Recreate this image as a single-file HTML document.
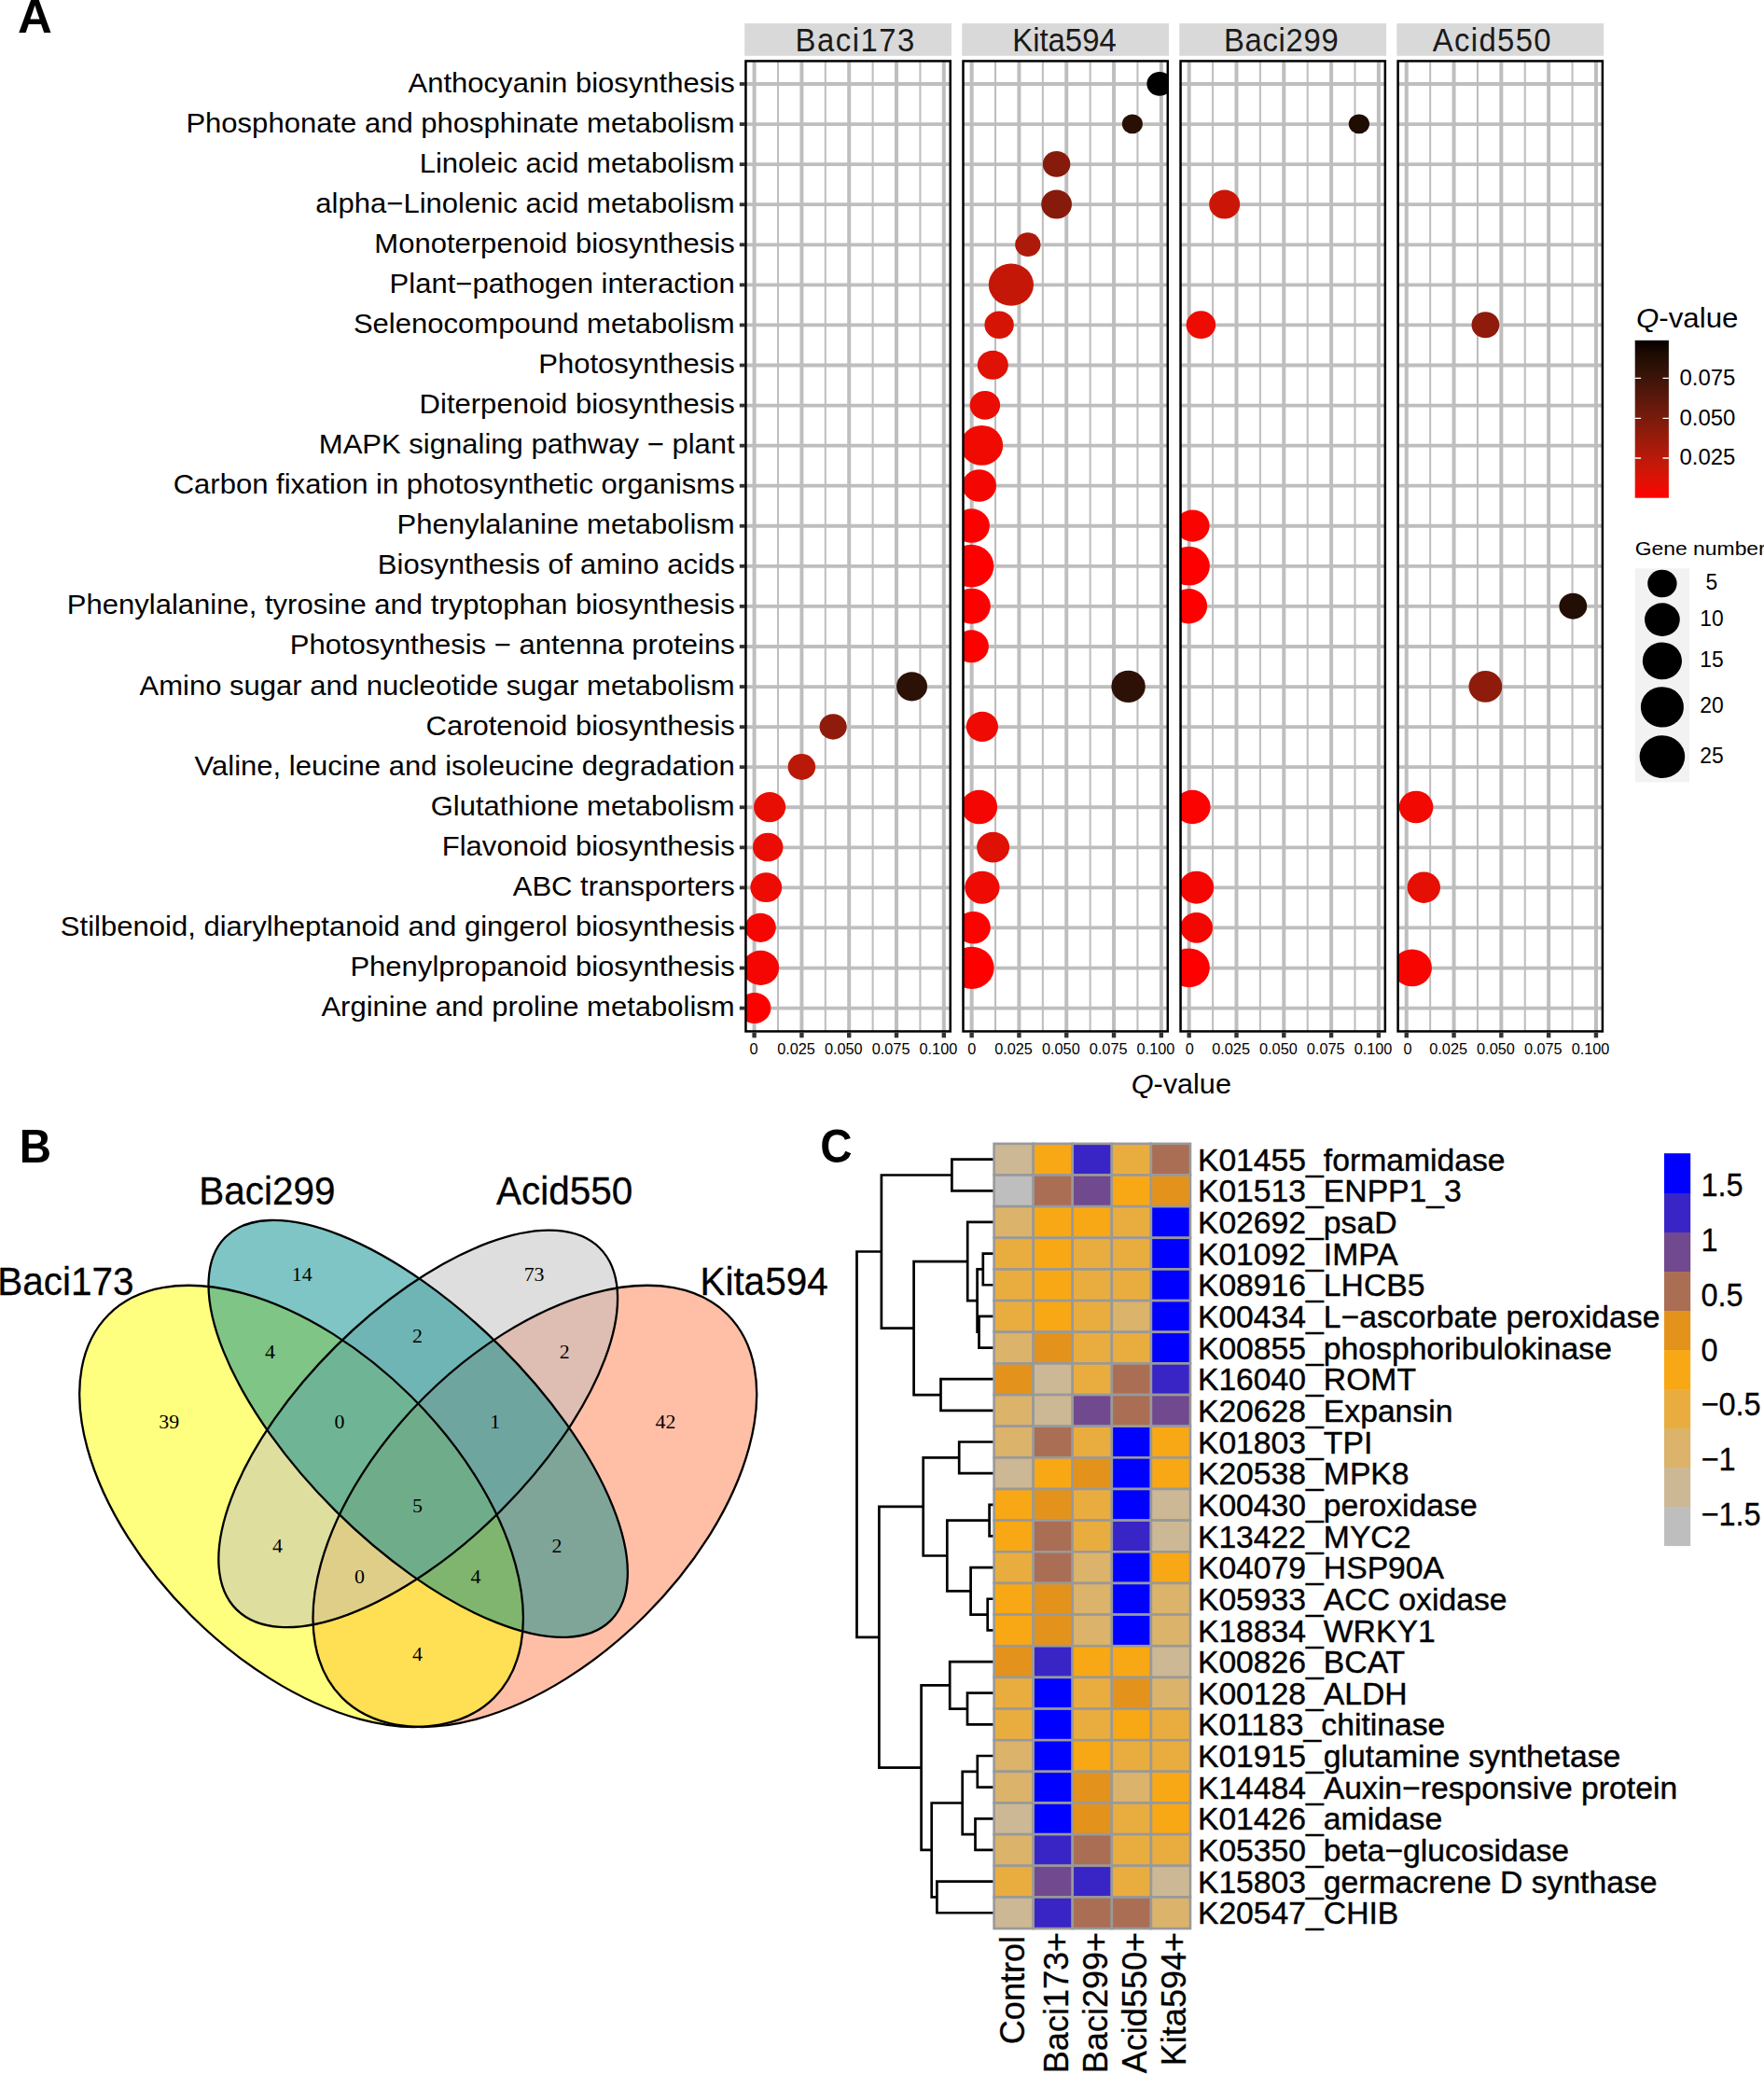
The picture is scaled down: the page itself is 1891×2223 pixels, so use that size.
<!DOCTYPE html>
<html lang="en">
<head>
<meta charset="utf-8">
<title>Figure</title>
<style>
html,body{margin:0;padding:0;background:#fff;}
body{width:1891px;height:2223px;overflow:hidden;}
svg{display:block;font-family:"Liberation Sans", sans-serif;}
</style>
</head>
<body>
<svg width="1891" height="2223" viewBox="0 0 1891 2223">
<rect width="1891" height="2223" fill="#fff"/>
<g id="panelA">
<text transform="translate(19.1 34.7) scale(1.014 1)" font-size="50.3" text-anchor="start" fill="#000" font-weight="bold">A</text>
<text transform="translate(787.7 98.5) scale(1.038 1)" font-size="29.9" text-anchor="end" fill="#000">Anthocyanin biosynthesis</text>
<rect x="792.8" y="88.1" width="5.6" height="3.8" fill="#333"/>
<text transform="translate(787.7 141.57) scale(1.038 1)" font-size="29.9" text-anchor="end" fill="#000">Phosphonate and phosphinate metabolism</text>
<rect x="792.8" y="131.17" width="5.6" height="3.8" fill="#333"/>
<text transform="translate(787.7 184.64) scale(1.038 1)" font-size="29.9" text-anchor="end" fill="#000">Linoleic acid metabolism</text>
<rect x="792.8" y="174.24" width="5.6" height="3.8" fill="#333"/>
<text transform="translate(787.7 227.71) scale(1.038 1)" font-size="29.9" text-anchor="end" fill="#000">alpha−Linolenic acid metabolism</text>
<rect x="792.8" y="217.31" width="5.6" height="3.8" fill="#333"/>
<text transform="translate(787.7 270.78) scale(1.038 1)" font-size="29.9" text-anchor="end" fill="#000">Monoterpenoid biosynthesis</text>
<rect x="792.8" y="260.38" width="5.6" height="3.8" fill="#333"/>
<text transform="translate(787.7 313.85) scale(1.038 1)" font-size="29.9" text-anchor="end" fill="#000">Plant−pathogen interaction</text>
<rect x="792.8" y="303.45" width="5.6" height="3.8" fill="#333"/>
<text transform="translate(787.7 356.92) scale(1.038 1)" font-size="29.9" text-anchor="end" fill="#000">Selenocompound metabolism</text>
<rect x="792.8" y="346.52" width="5.6" height="3.8" fill="#333"/>
<text transform="translate(787.7 399.99) scale(1.038 1)" font-size="29.9" text-anchor="end" fill="#000">Photosynthesis</text>
<rect x="792.8" y="389.59" width="5.6" height="3.8" fill="#333"/>
<text transform="translate(787.7 443.06) scale(1.038 1)" font-size="29.9" text-anchor="end" fill="#000">Diterpenoid biosynthesis</text>
<rect x="792.8" y="432.66" width="5.6" height="3.8" fill="#333"/>
<text transform="translate(787.7 486.13) scale(1.038 1)" font-size="29.9" text-anchor="end" fill="#000">MAPK signaling pathway − plant</text>
<rect x="792.8" y="475.73" width="5.6" height="3.8" fill="#333"/>
<text transform="translate(787.7 529.2) scale(1.038 1)" font-size="29.9" text-anchor="end" fill="#000">Carbon fixation in photosynthetic organisms</text>
<rect x="792.8" y="518.8" width="5.6" height="3.8" fill="#333"/>
<text transform="translate(787.7 572.27) scale(1.038 1)" font-size="29.9" text-anchor="end" fill="#000">Phenylalanine metabolism</text>
<rect x="792.8" y="561.87" width="5.6" height="3.8" fill="#333"/>
<text transform="translate(787.7 615.34) scale(1.038 1)" font-size="29.9" text-anchor="end" fill="#000">Biosynthesis of amino acids</text>
<rect x="792.8" y="604.94" width="5.6" height="3.8" fill="#333"/>
<text transform="translate(787.7 658.41) scale(1.038 1)" font-size="29.9" text-anchor="end" fill="#000">Phenylalanine, tyrosine and tryptophan biosynthesis</text>
<rect x="792.8" y="648.01" width="5.6" height="3.8" fill="#333"/>
<text transform="translate(787.7 701.48) scale(1.038 1)" font-size="29.9" text-anchor="end" fill="#000">Photosynthesis − antenna proteins</text>
<rect x="792.8" y="691.08" width="5.6" height="3.8" fill="#333"/>
<text transform="translate(787.7 744.55) scale(1.038 1)" font-size="29.9" text-anchor="end" fill="#000">Amino sugar and nucleotide sugar metabolism</text>
<rect x="792.8" y="734.15" width="5.6" height="3.8" fill="#333"/>
<text transform="translate(787.7 787.62) scale(1.038 1)" font-size="29.9" text-anchor="end" fill="#000">Carotenoid biosynthesis</text>
<rect x="792.8" y="777.22" width="5.6" height="3.8" fill="#333"/>
<text transform="translate(787.7 830.69) scale(1.038 1)" font-size="29.9" text-anchor="end" fill="#000">Valine, leucine and isoleucine degradation</text>
<rect x="792.8" y="820.29" width="5.6" height="3.8" fill="#333"/>
<text transform="translate(787.7 873.76) scale(1.038 1)" font-size="29.9" text-anchor="end" fill="#000">Glutathione metabolism</text>
<rect x="792.8" y="863.36" width="5.6" height="3.8" fill="#333"/>
<text transform="translate(787.7 916.83) scale(1.038 1)" font-size="29.9" text-anchor="end" fill="#000">Flavonoid biosynthesis</text>
<rect x="792.8" y="906.43" width="5.6" height="3.8" fill="#333"/>
<text transform="translate(787.7 959.9) scale(1.038 1)" font-size="29.9" text-anchor="end" fill="#000">ABC transporters</text>
<rect x="792.8" y="949.5" width="5.6" height="3.8" fill="#333"/>
<text transform="translate(787.7 1002.97) scale(1.038 1)" font-size="29.9" text-anchor="end" fill="#000">Stilbenoid, diarylheptanoid and gingerol biosynthesis</text>
<rect x="792.8" y="992.57" width="5.6" height="3.8" fill="#333"/>
<text transform="translate(787.7 1046.04) scale(1.038 1)" font-size="29.9" text-anchor="end" fill="#000">Phenylpropanoid biosynthesis</text>
<rect x="792.8" y="1035.64" width="5.6" height="3.8" fill="#333"/>
<text transform="translate(787.7 1089.11) scale(1.038 1)" font-size="29.9" text-anchor="end" fill="#000">Arginine and proline metabolism</text>
<rect x="792.8" y="1078.71" width="5.6" height="3.8" fill="#333"/>
<defs>
<clipPath id="cp0"><rect x="799.45" y="65.45" width="219.3" height="1040"/></clipPath>
<clipPath id="cp1"><rect x="1032.5" y="65.45" width="219.3" height="1040"/></clipPath>
<clipPath id="cp2"><rect x="1265.55" y="65.45" width="219.3" height="1040"/></clipPath>
<clipPath id="cp3"><rect x="1498.6" y="65.45" width="219.3" height="1040"/></clipPath>
</defs>
<rect x="798.2" y="25.1" width="221.8" height="34.7" fill="#d9d9d9"/>
<text transform="translate(852.6 54.9) scale(0.959 1)" font-size="34.3" text-anchor="start" fill="#1a1a1a" letter-spacing="1.55">Baci173</text>
<g clip-path="url(#cp0)">
<path d="M834 64.2V1106.7M884.8 64.2V1106.7M935.6 64.2V1106.7M986.4 64.2V1106.7" stroke="#bebebe" stroke-width="2.05" fill="none"/>
<path d="M808.6 64.2V1106.7M859.4 64.2V1106.7M910.2 64.2V1106.7M961 64.2V1106.7M1011.8 64.2V1106.7" stroke="#bebebe" stroke-width="4.0" fill="none"/>
<path d="M798.2 90H1020M798.2 133.07H1020M798.2 176.14H1020M798.2 219.21H1020M798.2 262.28H1020M798.2 305.35H1020M798.2 348.42H1020M798.2 391.49H1020M798.2 434.56H1020M798.2 477.63H1020M798.2 520.7H1020M798.2 563.77H1020M798.2 606.84H1020M798.2 649.91H1020M798.2 692.98H1020M798.2 736.05H1020M798.2 779.12H1020M798.2 822.19H1020M798.2 865.26H1020M798.2 908.33H1020M798.2 951.4H1020M798.2 994.47H1020M798.2 1037.54H1020M798.2 1080.61H1020" stroke="#bebebe" stroke-width="3.8" fill="none"/>
<ellipse cx="977.5" cy="735.85" rx="16.5" ry="15.53" fill="#2c1106"/>
<ellipse cx="893.1" cy="778.92" rx="14.57" ry="13.72" fill="#8e1b0c"/>
<ellipse cx="859.4" cy="821.99" rx="14.78" ry="13.91" fill="#ba1909"/>
<ellipse cx="825.1" cy="865.06" rx="17.1" ry="16.1" fill="#e80e04"/>
<ellipse cx="823.2" cy="908.13" rx="16.24" ry="15.29" fill="#eb0c03"/>
<ellipse cx="821.3" cy="951.2" rx="16.9" ry="15.91" fill="#ed0b03"/>
<ellipse cx="815.2" cy="994.27" rx="16.6" ry="15.63" fill="#f60602"/>
<ellipse cx="815.4" cy="1037.34" rx="19.73" ry="18.58" fill="#f50602"/>
<ellipse cx="808.9" cy="1080.41" rx="17.51" ry="16.49" fill="#ff0000"/>
</g>
<rect x="799.45" y="65.45" width="219.3" height="1040" fill="none" stroke="#000" stroke-width="2.5"/>
<rect x="806.4" y="1106.7" width="4.4" height="5.6" fill="#333"/>
<text x="808.1" y="1130.3" font-size="16.3" text-anchor="middle" fill="#000">0</text>
<rect x="857.2" y="1106.7" width="4.4" height="5.6" fill="#333"/>
<text x="853.5" y="1130.3" font-size="16.3" text-anchor="middle" fill="#000">0.025</text>
<rect x="908" y="1106.7" width="4.4" height="5.6" fill="#333"/>
<text x="904.3" y="1130.3" font-size="16.3" text-anchor="middle" fill="#000">0.050</text>
<rect x="958.8" y="1106.7" width="4.4" height="5.6" fill="#333"/>
<text x="955.1" y="1130.3" font-size="16.3" text-anchor="middle" fill="#000">0.075</text>
<rect x="1009.6" y="1106.7" width="4.4" height="5.6" fill="#333"/>
<text x="1005.9" y="1130.3" font-size="16.3" text-anchor="middle" fill="#000">0.100</text>
<rect x="1031.25" y="25.1" width="221.8" height="34.7" fill="#d9d9d9"/>
<text transform="translate(1085.2 54.9) scale(0.959 1)" font-size="34.3" text-anchor="start" fill="#1a1a1a" letter-spacing="0">Kita594</text>
<g clip-path="url(#cp1)">
<path d="M1067.05 64.2V1106.7M1117.85 64.2V1106.7M1168.65 64.2V1106.7M1219.45 64.2V1106.7" stroke="#bebebe" stroke-width="2.05" fill="none"/>
<path d="M1041.65 64.2V1106.7M1092.45 64.2V1106.7M1143.25 64.2V1106.7M1194.05 64.2V1106.7M1244.85 64.2V1106.7" stroke="#bebebe" stroke-width="4.0" fill="none"/>
<path d="M1031.25 90H1253.05M1031.25 133.07H1253.05M1031.25 176.14H1253.05M1031.25 219.21H1253.05M1031.25 262.28H1253.05M1031.25 305.35H1253.05M1031.25 348.42H1253.05M1031.25 391.49H1253.05M1031.25 434.56H1253.05M1031.25 477.63H1253.05M1031.25 520.7H1253.05M1031.25 563.77H1253.05M1031.25 606.84H1253.05M1031.25 649.91H1253.05M1031.25 692.98H1253.05M1031.25 736.05H1253.05M1031.25 779.12H1253.05M1031.25 822.19H1253.05M1031.25 865.26H1253.05M1031.25 908.33H1253.05M1031.25 951.4H1253.05M1031.25 994.47H1253.05M1031.25 1037.54H1253.05M1031.25 1080.61H1253.05" stroke="#bebebe" stroke-width="3.8" fill="none"/>
<ellipse cx="1243" cy="89.8" rx="13.66" ry="12.86" fill="#000000"/>
<ellipse cx="1213.9" cy="132.87" rx="11.03" ry="10.39" fill="#281005"/>
<ellipse cx="1132.6" cy="175.94" rx="14.78" ry="13.91" fill="#861b0c"/>
<ellipse cx="1132.6" cy="219.01" rx="16.39" ry="15.44" fill="#861b0c"/>
<ellipse cx="1101.8" cy="262.08" rx="13.66" ry="12.86" fill="#ad1a0a"/>
<ellipse cx="1083.9" cy="305.15" rx="24.09" ry="22.68" fill="#c51708"/>
<ellipse cx="1071.1" cy="348.22" rx="15.69" ry="14.77" fill="#d61406"/>
<ellipse cx="1064.3" cy="391.29" rx="16.5" ry="15.53" fill="#e01105"/>
<ellipse cx="1055.9" cy="434.36" rx="16.24" ry="15.29" fill="#eb0c03"/>
<ellipse cx="1052.4" cy="477.43" rx="22.77" ry="21.44" fill="#f00a02"/>
<ellipse cx="1049.7" cy="520.5" rx="18.32" ry="17.25" fill="#f40702"/>
<ellipse cx="1041.5" cy="563.57" rx="19.43" ry="18.3" fill="#ff0000"/>
<ellipse cx="1041.1" cy="606.64" rx="24.29" ry="22.87" fill="#ff0000"/>
<ellipse cx="1041.6" cy="649.71" rx="20.24" ry="19.06" fill="#ff0000"/>
<ellipse cx="1041.4" cy="692.78" rx="18.52" ry="17.44" fill="#ff0000"/>
<ellipse cx="1209.6" cy="735.85" rx="18.22" ry="17.15" fill="#2d1106"/>
<ellipse cx="1052.9" cy="778.92" rx="17.1" ry="16.1" fill="#ef0a03"/>
<ellipse cx="1049.7" cy="865.06" rx="19.43" ry="18.3" fill="#f40702"/>
<ellipse cx="1064.6" cy="908.13" rx="17.51" ry="16.49" fill="#df1105"/>
<ellipse cx="1052.9" cy="951.2" rx="18.62" ry="17.53" fill="#ef0a03"/>
<ellipse cx="1043.5" cy="994.27" rx="18.32" ry="17.25" fill="#fc0200"/>
<ellipse cx="1041.7" cy="1037.34" rx="23.98" ry="22.58" fill="#ff0000"/>
</g>
<rect x="1032.5" y="65.45" width="219.3" height="1040" fill="none" stroke="#000" stroke-width="2.5"/>
<rect x="1039.45" y="1106.7" width="4.4" height="5.6" fill="#333"/>
<text x="1041.72" y="1130.3" font-size="16.3" text-anchor="middle" fill="#000">0</text>
<rect x="1090.25" y="1106.7" width="4.4" height="5.6" fill="#333"/>
<text x="1086.55" y="1130.3" font-size="16.3" text-anchor="middle" fill="#000">0.025</text>
<rect x="1141.05" y="1106.7" width="4.4" height="5.6" fill="#333"/>
<text x="1137.35" y="1130.3" font-size="16.3" text-anchor="middle" fill="#000">0.050</text>
<rect x="1191.85" y="1106.7" width="4.4" height="5.6" fill="#333"/>
<text x="1188.15" y="1130.3" font-size="16.3" text-anchor="middle" fill="#000">0.075</text>
<rect x="1242.65" y="1106.7" width="4.4" height="5.6" fill="#333"/>
<text x="1238.95" y="1130.3" font-size="16.3" text-anchor="middle" fill="#000">0.100</text>
<rect x="1264.3" y="25.1" width="221.8" height="34.7" fill="#d9d9d9"/>
<text transform="translate(1312 54.9) scale(0.959 1)" font-size="34.3" text-anchor="start" fill="#1a1a1a" letter-spacing="0.67">Baci299</text>
<g clip-path="url(#cp2)">
<path d="M1300.1 64.2V1106.7M1350.9 64.2V1106.7M1401.7 64.2V1106.7M1452.5 64.2V1106.7" stroke="#bebebe" stroke-width="2.05" fill="none"/>
<path d="M1274.7 64.2V1106.7M1325.5 64.2V1106.7M1376.3 64.2V1106.7M1427.1 64.2V1106.7M1477.9 64.2V1106.7" stroke="#bebebe" stroke-width="4.0" fill="none"/>
<path d="M1264.3 90H1486.1M1264.3 133.07H1486.1M1264.3 176.14H1486.1M1264.3 219.21H1486.1M1264.3 262.28H1486.1M1264.3 305.35H1486.1M1264.3 348.42H1486.1M1264.3 391.49H1486.1M1264.3 434.56H1486.1M1264.3 477.63H1486.1M1264.3 520.7H1486.1M1264.3 563.77H1486.1M1264.3 606.84H1486.1M1264.3 649.91H1486.1M1264.3 692.98H1486.1M1264.3 736.05H1486.1M1264.3 779.12H1486.1M1264.3 822.19H1486.1M1264.3 865.26H1486.1M1264.3 908.33H1486.1M1264.3 951.4H1486.1M1264.3 994.47H1486.1M1264.3 1037.54H1486.1M1264.3 1080.61H1486.1" stroke="#bebebe" stroke-width="3.8" fill="none"/>
<ellipse cx="1456.9" cy="132.87" rx="11.13" ry="10.48" fill="#1f0c03"/>
<ellipse cx="1312.7" cy="219.01" rx="16.5" ry="15.53" fill="#cb1607"/>
<ellipse cx="1287.4" cy="348.22" rx="15.79" ry="14.87" fill="#ed0b03"/>
<ellipse cx="1278.5" cy="563.57" rx="18.11" ry="17.06" fill="#fa0401"/>
<ellipse cx="1274.7" cy="606.64" rx="22.16" ry="20.87" fill="#ff0000"/>
<ellipse cx="1274.3" cy="649.71" rx="19.84" ry="18.68" fill="#ff0000"/>
<ellipse cx="1278.3" cy="865.06" rx="19.33" ry="18.2" fill="#fa0301"/>
<ellipse cx="1282.7" cy="951.2" rx="18.52" ry="17.44" fill="#f40702"/>
<ellipse cx="1282.7" cy="994.27" rx="17.41" ry="16.39" fill="#f40702"/>
<ellipse cx="1274.7" cy="1037.34" rx="22.16" ry="20.87" fill="#ff0000"/>
</g>
<rect x="1265.55" y="65.45" width="219.3" height="1040" fill="none" stroke="#000" stroke-width="2.5"/>
<rect x="1272.5" y="1106.7" width="4.4" height="5.6" fill="#333"/>
<text x="1275.34" y="1130.3" font-size="16.3" text-anchor="middle" fill="#000">0</text>
<rect x="1323.3" y="1106.7" width="4.4" height="5.6" fill="#333"/>
<text x="1319.6" y="1130.3" font-size="16.3" text-anchor="middle" fill="#000">0.025</text>
<rect x="1374.1" y="1106.7" width="4.4" height="5.6" fill="#333"/>
<text x="1370.4" y="1130.3" font-size="16.3" text-anchor="middle" fill="#000">0.050</text>
<rect x="1424.9" y="1106.7" width="4.4" height="5.6" fill="#333"/>
<text x="1421.2" y="1130.3" font-size="16.3" text-anchor="middle" fill="#000">0.075</text>
<rect x="1475.7" y="1106.7" width="4.4" height="5.6" fill="#333"/>
<text x="1472" y="1130.3" font-size="16.3" text-anchor="middle" fill="#000">0.100</text>
<rect x="1497.35" y="25.1" width="221.8" height="34.7" fill="#d9d9d9"/>
<text transform="translate(1535.8 54.9) scale(0.959 1)" font-size="34.3" text-anchor="start" fill="#1a1a1a" letter-spacing="1.39">Acid550</text>
<g clip-path="url(#cp3)">
<path d="M1533.15 64.2V1106.7M1583.95 64.2V1106.7M1634.75 64.2V1106.7M1685.55 64.2V1106.7" stroke="#bebebe" stroke-width="2.05" fill="none"/>
<path d="M1507.75 64.2V1106.7M1558.55 64.2V1106.7M1609.35 64.2V1106.7M1660.15 64.2V1106.7M1710.95 64.2V1106.7" stroke="#bebebe" stroke-width="4.0" fill="none"/>
<path d="M1497.35 90H1719.15M1497.35 133.07H1719.15M1497.35 176.14H1719.15M1497.35 219.21H1719.15M1497.35 262.28H1719.15M1497.35 305.35H1719.15M1497.35 348.42H1719.15M1497.35 391.49H1719.15M1497.35 434.56H1719.15M1497.35 477.63H1719.15M1497.35 520.7H1719.15M1497.35 563.77H1719.15M1497.35 606.84H1719.15M1497.35 649.91H1719.15M1497.35 692.98H1719.15M1497.35 736.05H1719.15M1497.35 779.12H1719.15M1497.35 822.19H1719.15M1497.35 865.26H1719.15M1497.35 908.33H1719.15M1497.35 951.4H1719.15M1497.35 994.47H1719.15M1497.35 1037.54H1719.15M1497.35 1080.61H1719.15" stroke="#bebebe" stroke-width="3.8" fill="none"/>
<ellipse cx="1592.4" cy="348.22" rx="14.88" ry="14.01" fill="#8e1b0c"/>
<ellipse cx="1686.3" cy="649.71" rx="14.88" ry="14.01" fill="#220e04"/>
<ellipse cx="1592.4" cy="735.85" rx="17.91" ry="16.87" fill="#8e1b0c"/>
<ellipse cx="1518.1" cy="865.06" rx="18.32" ry="17.25" fill="#f10902"/>
<ellipse cx="1526.3" cy="951.2" rx="17.71" ry="16.68" fill="#e50f04"/>
<ellipse cx="1513.8" cy="1037.34" rx="21.15" ry="19.92" fill="#f70601"/>
</g>
<rect x="1498.6" y="65.45" width="219.3" height="1040" fill="none" stroke="#000" stroke-width="2.5"/>
<rect x="1505.55" y="1106.7" width="4.4" height="5.6" fill="#333"/>
<text x="1508.96" y="1130.3" font-size="16.3" text-anchor="middle" fill="#000">0</text>
<rect x="1556.35" y="1106.7" width="4.4" height="5.6" fill="#333"/>
<text x="1552.65" y="1130.3" font-size="16.3" text-anchor="middle" fill="#000">0.025</text>
<rect x="1607.15" y="1106.7" width="4.4" height="5.6" fill="#333"/>
<text x="1603.45" y="1130.3" font-size="16.3" text-anchor="middle" fill="#000">0.050</text>
<rect x="1657.95" y="1106.7" width="4.4" height="5.6" fill="#333"/>
<text x="1654.25" y="1130.3" font-size="16.3" text-anchor="middle" fill="#000">0.075</text>
<rect x="1708.75" y="1106.7" width="4.4" height="5.6" fill="#333"/>
<text x="1705.05" y="1130.3" font-size="16.3" text-anchor="middle" fill="#000">0.100</text>
<text transform="translate(1266.3 1171.7) scale(1.05 1)" font-size="29.2" text-anchor="middle"><tspan font-style="italic">Q</tspan>-value</text>
<text transform="translate(1754.0 350.5) scale(1.063 1)" font-size="29.4"><tspan font-style="italic">Q</tspan>-value</text>
<defs><linearGradient id="qg" x1="0" y1="1" x2="0" y2="0">
<stop offset="0" stop-color="#ff0000"/>
<stop offset="0.05" stop-color="#f10902"/>
<stop offset="0.1" stop-color="#e31004"/>
<stop offset="0.15" stop-color="#d51406"/>
<stop offset="0.2" stop-color="#c81708"/>
<stop offset="0.25" stop-color="#bb1909"/>
<stop offset="0.3" stop-color="#ad1a0a"/>
<stop offset="0.35" stop-color="#a01b0b"/>
<stop offset="0.4" stop-color="#931b0b"/>
<stop offset="0.45" stop-color="#871b0c"/>
<stop offset="0.5" stop-color="#7a1b0c"/>
<stop offset="0.55" stop-color="#6e1a0c"/>
<stop offset="0.6" stop-color="#62190c"/>
<stop offset="0.65" stop-color="#56180b"/>
<stop offset="0.7" stop-color="#4b160a"/>
<stop offset="0.75" stop-color="#3f1508"/>
<stop offset="0.8" stop-color="#341307"/>
<stop offset="0.85" stop-color="#2a1005"/>
<stop offset="0.9" stop-color="#200c03"/>
<stop offset="0.95" stop-color="#150602"/>
<stop offset="1" stop-color="#000000"/>
</linearGradient></defs>
<rect x="1752.7" y="364.8" width="36.2" height="168.9" fill="url(#qg)"/>
<path d="M1752.7 405.3h6.4M1788.9 405.3h-6.4" stroke="#fff" stroke-width="1.3"/>
<text transform="translate(1800.5 412.7) scale(1.01 1)" font-size="23.7" text-anchor="start" fill="#000">0.075</text>
<path d="M1752.7 448.3h6.4M1788.9 448.3h-6.4" stroke="#fff" stroke-width="1.3"/>
<text transform="translate(1800.5 455.7) scale(1.01 1)" font-size="23.7" text-anchor="start" fill="#000">0.050</text>
<path d="M1752.7 491.0h6.4M1788.9 491.0h-6.4" stroke="#fff" stroke-width="1.3"/>
<text transform="translate(1800.5 498.4) scale(1.01 1)" font-size="23.7" text-anchor="start" fill="#000">0.025</text>
<text transform="translate(1752.8 594.9) scale(1.085 1)" font-size="21.1" text-anchor="start" fill="#000">Gene number</text>
<rect x="1752.7" y="609.3" width="58.3" height="229.1" fill="#f2f2f2"/>
<ellipse cx="1781.9" cy="625.5" rx="15.7" ry="14.81" fill="#000"/>
<text transform="translate(1834.9 631.9) scale(0.99 1)" font-size="23.1" text-anchor="middle" fill="#000">5</text>
<ellipse cx="1781.9" cy="664.1" rx="18.9" ry="17.83" fill="#000"/>
<text transform="translate(1834.9 670.5) scale(0.99 1)" font-size="23.1" text-anchor="middle" fill="#000">10</text>
<ellipse cx="1781.9" cy="708.4" rx="21.1" ry="19.91" fill="#000"/>
<text transform="translate(1834.9 714.8) scale(0.99 1)" font-size="23.1" text-anchor="middle" fill="#000">15</text>
<ellipse cx="1781.9" cy="757.9" rx="23.0" ry="21.7" fill="#000"/>
<text transform="translate(1834.9 764.3) scale(0.99 1)" font-size="23.1" text-anchor="middle" fill="#000">20</text>
<ellipse cx="1781.9" cy="811.1" rx="24.3" ry="22.92" fill="#000"/>
<text transform="translate(1834.9 817.5) scale(0.99 1)" font-size="23.1" text-anchor="middle" fill="#000">25</text>
</g>
<g id="panelB">
<text transform="translate(20.85 1245.7) scale(0.945 1)" font-size="50.3" text-anchor="start" fill="#000" font-weight="bold">B</text>
<ellipse cx="0.65" cy="0.47" rx="0.35" ry="0.2" transform="translate(31.0 2004.5) scale(834.4 -830.0) rotate(45 0.65 0.47)" fill="#ff7f50" fill-opacity="0.5"/>
<ellipse cx="0.35" cy="0.47" rx="0.35" ry="0.2" transform="translate(31.0 2004.5) scale(834.4 -830.0) rotate(135 0.35 0.47)" fill="#ffff00" fill-opacity="0.5"/>
<ellipse cx="0.5" cy="0.57" rx="0.33" ry="0.15" transform="translate(31.0 2004.5) scale(834.4 -830.0) rotate(45 0.5 0.57)" fill="#bebebe" fill-opacity="0.5"/>
<ellipse cx="0.5" cy="0.57" rx="0.35" ry="0.15" transform="translate(31.0 2004.5) scale(834.4 -830.0) rotate(135 0.5 0.57)" fill="#008b8b" fill-opacity="0.5"/>
<ellipse cx="0.65" cy="0.47" rx="0.35" ry="0.2" transform="translate(31.0 2004.5) scale(834.4 -830.0) rotate(45 0.65 0.47)" fill="none" stroke="#000" stroke-width="2.3" vector-effect="non-scaling-stroke"/>
<ellipse cx="0.35" cy="0.47" rx="0.35" ry="0.2" transform="translate(31.0 2004.5) scale(834.4 -830.0) rotate(135 0.35 0.47)" fill="none" stroke="#000" stroke-width="2.3" vector-effect="non-scaling-stroke"/>
<ellipse cx="0.5" cy="0.57" rx="0.33" ry="0.15" transform="translate(31.0 2004.5) scale(834.4 -830.0) rotate(45 0.5 0.57)" fill="none" stroke="#000" stroke-width="2.3" vector-effect="non-scaling-stroke"/>
<ellipse cx="0.5" cy="0.57" rx="0.35" ry="0.15" transform="translate(31.0 2004.5) scale(834.4 -830.0) rotate(135 0.5 0.57)" fill="none" stroke="#000" stroke-width="2.3" vector-effect="non-scaling-stroke"/>
<text transform="translate(213.2 1291) scale(0.973 1)" font-size="41.6" text-anchor="start" fill="#000" stroke="#000" stroke-width="0.3">Baci299</text>
<text transform="translate(532.1 1291) scale(0.973 1)" font-size="41.6" text-anchor="start" fill="#000" stroke="#000" stroke-width="0.3">Acid550</text>
<text transform="translate(-2.7 1388) scale(0.973 1)" font-size="41.6" text-anchor="start" fill="#000" stroke="#000" stroke-width="0.3">Baci173</text>
<text transform="translate(750.4 1388) scale(0.973 1)" font-size="41.6" text-anchor="start" fill="#000" stroke="#000" stroke-width="0.3">Kita594</text>
<text x="323.7" y="1372.8" font-size="21.9" text-anchor="middle" fill="#000" font-family='"Liberation Serif", serif'>14</text>
<text x="572.6" y="1372.8" font-size="21.9" text-anchor="middle" fill="#000" font-family='"Liberation Serif", serif'>73</text>
<text x="447.6" y="1439.2" font-size="21.9" text-anchor="middle" fill="#000" font-family='"Liberation Serif", serif'>2</text>
<text x="289.5" y="1456" font-size="21.9" text-anchor="middle" fill="#000" font-family='"Liberation Serif", serif'>4</text>
<text x="605.3" y="1456" font-size="21.9" text-anchor="middle" fill="#000" font-family='"Liberation Serif", serif'>2</text>
<text x="181.3" y="1530.5" font-size="21.9" text-anchor="middle" fill="#000" font-family='"Liberation Serif", serif'>39</text>
<text x="364" y="1530.5" font-size="21.9" text-anchor="middle" fill="#000" font-family='"Liberation Serif", serif'>0</text>
<text x="530.8" y="1530.5" font-size="21.9" text-anchor="middle" fill="#000" font-family='"Liberation Serif", serif'>1</text>
<text x="713.5" y="1530.5" font-size="21.9" text-anchor="middle" fill="#000" font-family='"Liberation Serif", serif'>42</text>
<text x="447.6" y="1621.3" font-size="21.9" text-anchor="middle" fill="#000" font-family='"Liberation Serif", serif'>5</text>
<text x="297.6" y="1663.6" font-size="21.9" text-anchor="middle" fill="#000" font-family='"Liberation Serif", serif'>4</text>
<text x="597.1" y="1663.6" font-size="21.9" text-anchor="middle" fill="#000" font-family='"Liberation Serif", serif'>2</text>
<text x="385.4" y="1696.8" font-size="21.9" text-anchor="middle" fill="#000" font-family='"Liberation Serif", serif'>0</text>
<text x="509.9" y="1696.8" font-size="21.9" text-anchor="middle" fill="#000" font-family='"Liberation Serif", serif'>4</text>
<text x="447.6" y="1779.5" font-size="21.9" text-anchor="middle" fill="#000" font-family='"Liberation Serif", serif'>4</text>
</g>
<g id="panelC">
<text transform="translate(879.3 1245.8) scale(0.945 1)" font-size="50.3" text-anchor="start" fill="#000" font-weight="bold">C</text>
<g stroke="#999" stroke-width="2.6">
<rect x="1065.6" y="1225.85" width="42.08" height="33.65" fill="#ccb894"/>
<rect x="1107.68" y="1225.85" width="42.08" height="33.65" fill="#f8a815"/>
<rect x="1149.76" y="1225.85" width="42.08" height="33.65" fill="#3925c6"/>
<rect x="1191.84" y="1225.85" width="42.08" height="33.65" fill="#e9ad3f"/>
<rect x="1233.92" y="1225.85" width="42.08" height="33.65" fill="#aa6e55"/>
<rect x="1065.6" y="1259.5" width="42.08" height="33.65" fill="#bebebe"/>
<rect x="1107.68" y="1259.5" width="42.08" height="33.65" fill="#aa6e55"/>
<rect x="1149.76" y="1259.5" width="42.08" height="33.65" fill="#71498e"/>
<rect x="1191.84" y="1259.5" width="42.08" height="33.65" fill="#f8a815"/>
<rect x="1233.92" y="1259.5" width="42.08" height="33.65" fill="#e3931c"/>
<rect x="1065.6" y="1293.15" width="42.08" height="33.65" fill="#dbb36a"/>
<rect x="1107.68" y="1293.15" width="42.08" height="33.65" fill="#f8a815"/>
<rect x="1149.76" y="1293.15" width="42.08" height="33.65" fill="#f8a815"/>
<rect x="1191.84" y="1293.15" width="42.08" height="33.65" fill="#e9ad3f"/>
<rect x="1233.92" y="1293.15" width="42.08" height="33.65" fill="#0000ff"/>
<rect x="1065.6" y="1326.8" width="42.08" height="33.65" fill="#e9ad3f"/>
<rect x="1107.68" y="1326.8" width="42.08" height="33.65" fill="#f8a815"/>
<rect x="1149.76" y="1326.8" width="42.08" height="33.65" fill="#e9ad3f"/>
<rect x="1191.84" y="1326.8" width="42.08" height="33.65" fill="#e9ad3f"/>
<rect x="1233.92" y="1326.8" width="42.08" height="33.65" fill="#0000ff"/>
<rect x="1065.6" y="1360.45" width="42.08" height="33.65" fill="#e9ad3f"/>
<rect x="1107.68" y="1360.45" width="42.08" height="33.65" fill="#f8a815"/>
<rect x="1149.76" y="1360.45" width="42.08" height="33.65" fill="#e9ad3f"/>
<rect x="1191.84" y="1360.45" width="42.08" height="33.65" fill="#e9ad3f"/>
<rect x="1233.92" y="1360.45" width="42.08" height="33.65" fill="#0000ff"/>
<rect x="1065.6" y="1394.1" width="42.08" height="33.65" fill="#e9ad3f"/>
<rect x="1107.68" y="1394.1" width="42.08" height="33.65" fill="#f8a815"/>
<rect x="1149.76" y="1394.1" width="42.08" height="33.65" fill="#e9ad3f"/>
<rect x="1191.84" y="1394.1" width="42.08" height="33.65" fill="#dbb36a"/>
<rect x="1233.92" y="1394.1" width="42.08" height="33.65" fill="#0000ff"/>
<rect x="1065.6" y="1427.75" width="42.08" height="33.65" fill="#dbb36a"/>
<rect x="1107.68" y="1427.75" width="42.08" height="33.65" fill="#e3931c"/>
<rect x="1149.76" y="1427.75" width="42.08" height="33.65" fill="#e9ad3f"/>
<rect x="1191.84" y="1427.75" width="42.08" height="33.65" fill="#e9ad3f"/>
<rect x="1233.92" y="1427.75" width="42.08" height="33.65" fill="#0000ff"/>
<rect x="1065.6" y="1461.4" width="42.08" height="33.65" fill="#e3931c"/>
<rect x="1107.68" y="1461.4" width="42.08" height="33.65" fill="#ccb894"/>
<rect x="1149.76" y="1461.4" width="42.08" height="33.65" fill="#e9ad3f"/>
<rect x="1191.84" y="1461.4" width="42.08" height="33.65" fill="#aa6e55"/>
<rect x="1233.92" y="1461.4" width="42.08" height="33.65" fill="#3925c6"/>
<rect x="1065.6" y="1495.05" width="42.08" height="33.65" fill="#dbb36a"/>
<rect x="1107.68" y="1495.05" width="42.08" height="33.65" fill="#ccb894"/>
<rect x="1149.76" y="1495.05" width="42.08" height="33.65" fill="#71498e"/>
<rect x="1191.84" y="1495.05" width="42.08" height="33.65" fill="#aa6e55"/>
<rect x="1233.92" y="1495.05" width="42.08" height="33.65" fill="#71498e"/>
<rect x="1065.6" y="1528.7" width="42.08" height="33.65" fill="#dbb36a"/>
<rect x="1107.68" y="1528.7" width="42.08" height="33.65" fill="#aa6e55"/>
<rect x="1149.76" y="1528.7" width="42.08" height="33.65" fill="#e9ad3f"/>
<rect x="1191.84" y="1528.7" width="42.08" height="33.65" fill="#0000ff"/>
<rect x="1233.92" y="1528.7" width="42.08" height="33.65" fill="#f8a815"/>
<rect x="1065.6" y="1562.35" width="42.08" height="33.65" fill="#ccb894"/>
<rect x="1107.68" y="1562.35" width="42.08" height="33.65" fill="#f8a815"/>
<rect x="1149.76" y="1562.35" width="42.08" height="33.65" fill="#e3931c"/>
<rect x="1191.84" y="1562.35" width="42.08" height="33.65" fill="#0000ff"/>
<rect x="1233.92" y="1562.35" width="42.08" height="33.65" fill="#f8a815"/>
<rect x="1065.6" y="1596" width="42.08" height="33.65" fill="#f8a815"/>
<rect x="1107.68" y="1596" width="42.08" height="33.65" fill="#e3931c"/>
<rect x="1149.76" y="1596" width="42.08" height="33.65" fill="#e9ad3f"/>
<rect x="1191.84" y="1596" width="42.08" height="33.65" fill="#0000ff"/>
<rect x="1233.92" y="1596" width="42.08" height="33.65" fill="#ccb894"/>
<rect x="1065.6" y="1629.65" width="42.08" height="33.65" fill="#f8a815"/>
<rect x="1107.68" y="1629.65" width="42.08" height="33.65" fill="#aa6e55"/>
<rect x="1149.76" y="1629.65" width="42.08" height="33.65" fill="#e9ad3f"/>
<rect x="1191.84" y="1629.65" width="42.08" height="33.65" fill="#3925c6"/>
<rect x="1233.92" y="1629.65" width="42.08" height="33.65" fill="#ccb894"/>
<rect x="1065.6" y="1663.3" width="42.08" height="33.65" fill="#e9ad3f"/>
<rect x="1107.68" y="1663.3" width="42.08" height="33.65" fill="#aa6e55"/>
<rect x="1149.76" y="1663.3" width="42.08" height="33.65" fill="#dbb36a"/>
<rect x="1191.84" y="1663.3" width="42.08" height="33.65" fill="#0000ff"/>
<rect x="1233.92" y="1663.3" width="42.08" height="33.65" fill="#f8a815"/>
<rect x="1065.6" y="1696.95" width="42.08" height="33.65" fill="#f8a815"/>
<rect x="1107.68" y="1696.95" width="42.08" height="33.65" fill="#e3931c"/>
<rect x="1149.76" y="1696.95" width="42.08" height="33.65" fill="#dbb36a"/>
<rect x="1191.84" y="1696.95" width="42.08" height="33.65" fill="#0000ff"/>
<rect x="1233.92" y="1696.95" width="42.08" height="33.65" fill="#dbb36a"/>
<rect x="1065.6" y="1730.6" width="42.08" height="33.65" fill="#f8a815"/>
<rect x="1107.68" y="1730.6" width="42.08" height="33.65" fill="#e3931c"/>
<rect x="1149.76" y="1730.6" width="42.08" height="33.65" fill="#dbb36a"/>
<rect x="1191.84" y="1730.6" width="42.08" height="33.65" fill="#0000ff"/>
<rect x="1233.92" y="1730.6" width="42.08" height="33.65" fill="#dbb36a"/>
<rect x="1065.6" y="1764.25" width="42.08" height="33.65" fill="#e3931c"/>
<rect x="1107.68" y="1764.25" width="42.08" height="33.65" fill="#3925c6"/>
<rect x="1149.76" y="1764.25" width="42.08" height="33.65" fill="#f8a815"/>
<rect x="1191.84" y="1764.25" width="42.08" height="33.65" fill="#f8a815"/>
<rect x="1233.92" y="1764.25" width="42.08" height="33.65" fill="#ccb894"/>
<rect x="1065.6" y="1797.9" width="42.08" height="33.65" fill="#e9ad3f"/>
<rect x="1107.68" y="1797.9" width="42.08" height="33.65" fill="#0000ff"/>
<rect x="1149.76" y="1797.9" width="42.08" height="33.65" fill="#e9ad3f"/>
<rect x="1191.84" y="1797.9" width="42.08" height="33.65" fill="#e3931c"/>
<rect x="1233.92" y="1797.9" width="42.08" height="33.65" fill="#dbb36a"/>
<rect x="1065.6" y="1831.55" width="42.08" height="33.65" fill="#e9ad3f"/>
<rect x="1107.68" y="1831.55" width="42.08" height="33.65" fill="#0000ff"/>
<rect x="1149.76" y="1831.55" width="42.08" height="33.65" fill="#e9ad3f"/>
<rect x="1191.84" y="1831.55" width="42.08" height="33.65" fill="#f8a815"/>
<rect x="1233.92" y="1831.55" width="42.08" height="33.65" fill="#e9ad3f"/>
<rect x="1065.6" y="1865.2" width="42.08" height="33.65" fill="#dbb36a"/>
<rect x="1107.68" y="1865.2" width="42.08" height="33.65" fill="#0000ff"/>
<rect x="1149.76" y="1865.2" width="42.08" height="33.65" fill="#f8a815"/>
<rect x="1191.84" y="1865.2" width="42.08" height="33.65" fill="#e9ad3f"/>
<rect x="1233.92" y="1865.2" width="42.08" height="33.65" fill="#e9ad3f"/>
<rect x="1065.6" y="1898.85" width="42.08" height="33.65" fill="#dbb36a"/>
<rect x="1107.68" y="1898.85" width="42.08" height="33.65" fill="#0000ff"/>
<rect x="1149.76" y="1898.85" width="42.08" height="33.65" fill="#e3931c"/>
<rect x="1191.84" y="1898.85" width="42.08" height="33.65" fill="#dbb36a"/>
<rect x="1233.92" y="1898.85" width="42.08" height="33.65" fill="#f8a815"/>
<rect x="1065.6" y="1932.5" width="42.08" height="33.65" fill="#ccb894"/>
<rect x="1107.68" y="1932.5" width="42.08" height="33.65" fill="#0000ff"/>
<rect x="1149.76" y="1932.5" width="42.08" height="33.65" fill="#e3931c"/>
<rect x="1191.84" y="1932.5" width="42.08" height="33.65" fill="#e9ad3f"/>
<rect x="1233.92" y="1932.5" width="42.08" height="33.65" fill="#f8a815"/>
<rect x="1065.6" y="1966.15" width="42.08" height="33.65" fill="#dbb36a"/>
<rect x="1107.68" y="1966.15" width="42.08" height="33.65" fill="#3925c6"/>
<rect x="1149.76" y="1966.15" width="42.08" height="33.65" fill="#aa6e55"/>
<rect x="1191.84" y="1966.15" width="42.08" height="33.65" fill="#e9ad3f"/>
<rect x="1233.92" y="1966.15" width="42.08" height="33.65" fill="#e9ad3f"/>
<rect x="1065.6" y="1999.8" width="42.08" height="33.65" fill="#e9ad3f"/>
<rect x="1107.68" y="1999.8" width="42.08" height="33.65" fill="#71498e"/>
<rect x="1149.76" y="1999.8" width="42.08" height="33.65" fill="#3925c6"/>
<rect x="1191.84" y="1999.8" width="42.08" height="33.65" fill="#e9ad3f"/>
<rect x="1233.92" y="1999.8" width="42.08" height="33.65" fill="#ccb894"/>
<rect x="1065.6" y="2033.45" width="42.08" height="33.65" fill="#ccb894"/>
<rect x="1107.68" y="2033.45" width="42.08" height="33.65" fill="#3925c6"/>
<rect x="1149.76" y="2033.45" width="42.08" height="33.65" fill="#aa6e55"/>
<rect x="1191.84" y="2033.45" width="42.08" height="33.65" fill="#aa6e55"/>
<rect x="1233.92" y="2033.45" width="42.08" height="33.65" fill="#dbb36a"/>
</g>
<text transform="translate(1283.9 1254.77) scale(1.009 1)" font-size="33.4" text-anchor="start" fill="#000" stroke="#000" stroke-width="0.4">K01455_formamidase</text>
<text transform="translate(1283.9 1288.42) scale(1.009 1)" font-size="33.4" text-anchor="start" fill="#000" stroke="#000" stroke-width="0.4">K01513_ENPP1_3</text>
<text transform="translate(1283.9 1322.07) scale(1.009 1)" font-size="33.4" text-anchor="start" fill="#000" stroke="#000" stroke-width="0.4">K02692_psaD</text>
<text transform="translate(1283.9 1355.72) scale(1.009 1)" font-size="33.4" text-anchor="start" fill="#000" stroke="#000" stroke-width="0.4">K01092_IMPA</text>
<text transform="translate(1283.9 1389.37) scale(1.009 1)" font-size="33.4" text-anchor="start" fill="#000" stroke="#000" stroke-width="0.4">K08916_LHCB5</text>
<text transform="translate(1283.9 1423.02) scale(1.009 1)" font-size="33.4" text-anchor="start" fill="#000" stroke="#000" stroke-width="0.4">K00434_L−ascorbate peroxidase</text>
<text transform="translate(1283.9 1456.67) scale(1.009 1)" font-size="33.4" text-anchor="start" fill="#000" stroke="#000" stroke-width="0.4">K00855_phosphoribulokinase</text>
<text transform="translate(1283.9 1490.32) scale(1.009 1)" font-size="33.4" text-anchor="start" fill="#000" stroke="#000" stroke-width="0.4">K16040_ROMT</text>
<text transform="translate(1283.9 1523.97) scale(1.009 1)" font-size="33.4" text-anchor="start" fill="#000" stroke="#000" stroke-width="0.4">K20628_Expansin</text>
<text transform="translate(1283.9 1557.62) scale(1.009 1)" font-size="33.4" text-anchor="start" fill="#000" stroke="#000" stroke-width="0.4">K01803_TPI</text>
<text transform="translate(1283.9 1591.27) scale(1.009 1)" font-size="33.4" text-anchor="start" fill="#000" stroke="#000" stroke-width="0.4">K20538_MPK8</text>
<text transform="translate(1283.9 1624.92) scale(1.009 1)" font-size="33.4" text-anchor="start" fill="#000" stroke="#000" stroke-width="0.4">K00430_peroxidase</text>
<text transform="translate(1283.9 1658.57) scale(1.009 1)" font-size="33.4" text-anchor="start" fill="#000" stroke="#000" stroke-width="0.4">K13422_MYC2</text>
<text transform="translate(1283.9 1692.22) scale(1.009 1)" font-size="33.4" text-anchor="start" fill="#000" stroke="#000" stroke-width="0.4">K04079_HSP90A</text>
<text transform="translate(1283.9 1725.87) scale(1.009 1)" font-size="33.4" text-anchor="start" fill="#000" stroke="#000" stroke-width="0.4">K05933_ACC oxidase</text>
<text transform="translate(1283.9 1759.52) scale(1.009 1)" font-size="33.4" text-anchor="start" fill="#000" stroke="#000" stroke-width="0.4">K18834_WRKY1</text>
<text transform="translate(1283.9 1793.17) scale(1.009 1)" font-size="33.4" text-anchor="start" fill="#000" stroke="#000" stroke-width="0.4">K00826_BCAT</text>
<text transform="translate(1283.9 1826.82) scale(1.009 1)" font-size="33.4" text-anchor="start" fill="#000" stroke="#000" stroke-width="0.4">K00128_ALDH</text>
<text transform="translate(1283.9 1860.47) scale(1.009 1)" font-size="33.4" text-anchor="start" fill="#000" stroke="#000" stroke-width="0.4">K01183_chitinase</text>
<text transform="translate(1283.9 1894.12) scale(1.009 1)" font-size="33.4" text-anchor="start" fill="#000" stroke="#000" stroke-width="0.4">K01915_glutamine synthetase</text>
<text transform="translate(1283.9 1927.77) scale(1.009 1)" font-size="33.4" text-anchor="start" fill="#000" stroke="#000" stroke-width="0.4">K14484_Auxin−responsive protein</text>
<text transform="translate(1283.9 1961.42) scale(1.009 1)" font-size="33.4" text-anchor="start" fill="#000" stroke="#000" stroke-width="0.4">K01426_amidase</text>
<text transform="translate(1283.9 1995.07) scale(1.009 1)" font-size="33.4" text-anchor="start" fill="#000" stroke="#000" stroke-width="0.4">K05350_beta−glucosidase</text>
<text transform="translate(1283.9 2028.72) scale(1.009 1)" font-size="33.4" text-anchor="start" fill="#000" stroke="#000" stroke-width="0.4">K15803_germacrene D synthase</text>
<text transform="translate(1283.9 2062.37) scale(1.009 1)" font-size="33.4" text-anchor="start" fill="#000" stroke="#000" stroke-width="0.4">K20547_CHIB</text>
<text transform="translate(1098.1 2074.9) rotate(-90) scale(0.96 1)" font-size="37.6" text-anchor="end" stroke="#000" stroke-width="0.3">Control</text>
<text transform="translate(1145 2070.8) rotate(-90) scale(0.96 1)" font-size="37.6" text-anchor="end" stroke="#000" stroke-width="0.3">Baci173+</text>
<text transform="translate(1186.9 2070.8) rotate(-90) scale(0.96 1)" font-size="37.6" text-anchor="end" stroke="#000" stroke-width="0.3">Baci299+</text>
<text transform="translate(1229.2 2070.8) rotate(-90) scale(0.96 1)" font-size="37.6" text-anchor="end" stroke="#000" stroke-width="0.3">Acid550+</text>
<text transform="translate(1270.6 2070.8) rotate(-90) scale(0.96 1)" font-size="37.6" text-anchor="end" stroke="#000" stroke-width="0.3">Kita594+</text>
<path d="M1064.4 1242.67H1020.4V1276.32H1064.4M1064.4 1343.62H1053.8V1377.27H1064.4M1064.4 1410.92H1049.5V1444.57H1064.4M1053.8 1360.45H1047.6V1427.75H1049.5M1064.4 1309.97H1037.2V1394.1H1047.6M1064.4 1478.22H1008.5V1511.88H1064.4M1037.2 1352.04H979.6V1495.05H1008.5M1020.4 1259.5H944.9V1423.54H979.6M1064.4 1545.52H1028.2V1579.17H1064.4M1064.4 1612.82H1060.6V1646.47H1064.4M1064.4 1713.77H1058.7V1747.42H1064.4M1064.4 1680.12H1040.6V1730.6H1058.7M1060.6 1629.65H1015.3V1705.36H1040.6M1028.2 1562.35H989.7V1667.51H1015.3M1064.4 1814.72H1037V1848.38H1064.4M1064.4 1781.07H1018.2V1831.55H1037M1064.4 1882.02H1047.8V1915.67H1064.4M1064.4 1949.32H1045.5V1982.97H1064.4M1047.8 1898.85H1031.7V1966.15H1045.5M1064.4 2016.62H1004.4V2050.27H1064.4M1031.7 1932.5H998.7V2033.45H1004.4M1018.2 1806.31H987.6V1982.97H998.7M989.7 1614.93H942.4V1894.64H987.6M944.9 1341.52H918.5V1754.79H942.4" fill="none" stroke="#000" stroke-width="2.7" stroke-linejoin="miter" stroke-linecap="butt"/>
<rect x="1784.0" y="1236.2" width="28.2" height="43.3" fill="#0000ff"/>
<rect x="1784.0" y="1279" width="28.2" height="42.51" fill="#3925c6"/>
<rect x="1784.0" y="1321.01" width="28.2" height="42.51" fill="#71498e"/>
<rect x="1784.0" y="1363.02" width="28.2" height="42.51" fill="#aa6e55"/>
<rect x="1784.0" y="1405.03" width="28.2" height="42.51" fill="#e3931c"/>
<rect x="1784.0" y="1447.04" width="28.2" height="42.51" fill="#f8a815"/>
<rect x="1784.0" y="1489.05" width="28.2" height="42.51" fill="#e9ad3f"/>
<rect x="1784.0" y="1531.06" width="28.2" height="42.51" fill="#dbb36a"/>
<rect x="1784.0" y="1573.07" width="28.2" height="42.51" fill="#ccb894"/>
<rect x="1784.0" y="1615.08" width="28.2" height="42.01" fill="#bebebe"/>
<text transform="translate(1823.4 1282.3) scale(0.93 1)" font-size="35" text-anchor="start" fill="#000" stroke="#000" stroke-width="0.3">1.5</text>
<text transform="translate(1823.4 1341.05) scale(0.93 1)" font-size="35" text-anchor="start" fill="#000" stroke="#000" stroke-width="0.3">1</text>
<text transform="translate(1823.4 1399.8) scale(0.93 1)" font-size="35" text-anchor="start" fill="#000" stroke="#000" stroke-width="0.3">0.5</text>
<text transform="translate(1823.4 1458.55) scale(0.93 1)" font-size="35" text-anchor="start" fill="#000" stroke="#000" stroke-width="0.3">0</text>
<text transform="translate(1823.4 1517.3) scale(0.93 1)" font-size="35" text-anchor="start" fill="#000" stroke="#000" stroke-width="0.3">−0.5</text>
<text transform="translate(1823.4 1576.05) scale(0.93 1)" font-size="35" text-anchor="start" fill="#000" stroke="#000" stroke-width="0.3">−1</text>
<text transform="translate(1823.4 1634.8) scale(0.93 1)" font-size="35" text-anchor="start" fill="#000" stroke="#000" stroke-width="0.3">−1.5</text>
</g>
</svg>
</body>
</html>
